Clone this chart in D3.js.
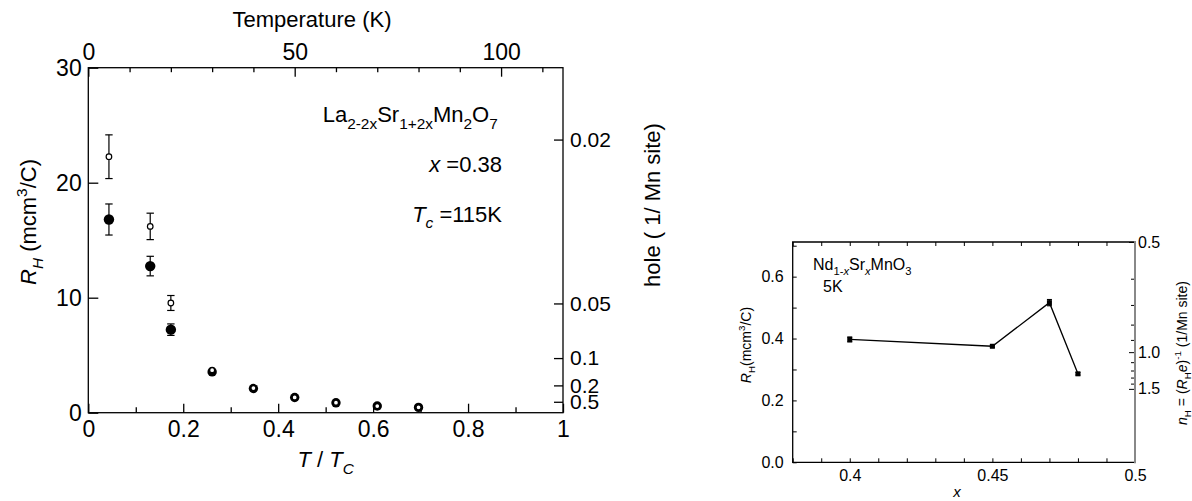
<!DOCTYPE html>
<html>
<head>
<meta charset="utf-8">
<script src="https://cdn.jsdelivr.net/npm/d3@7"></script>
<style>
  body { margin: 0; background: #fff; }
  svg { display: block; }
  text { font-family: "Liberation Sans", Arial, sans-serif; fill: #000; }
</style>
</head>
<body>
<div id="canvas"></div>
<script>
var w = 1192;
var h = 501;

// ---- left panel data (La2-2xSr1+2xMn2O7, x = 0.38) ----
var Tc = 115;
var tempK = [5, 15, 20, 30, 40, 50, 60, 70, 80];
var rhFilled = [16.8, 12.75, 7.22, 3.55, 2.1, 1.32, 0.86, 0.58, 0.46];
var errFilled = [1.35, 0.85, 0.5, 0, 0, 0, 0, 0, 0];
var rhOpen = [22.26, 16.2, 9.54, 3.7, 2.14, 1.33, 0.87, 0.58, 0.47];
var errOpen = [1.9, 1.15, 0.65, 0, 0, 0, 0, 0, 0];
var bottomTicks = [0, 0.2, 0.4, 0.6, 0.8, 1];
var bottomMinor = [0.1, 0.3, 0.5, 0.7, 0.9];
var topTicks = [0, 50, 100];
var topMinor = [10, 20, 30, 40, 60, 70, 80, 90, 110];
var leftTicks = [0, 10, 20, 30];
var holeTicks = [0.02, 0.05, 0.1, 0.2, 0.5];
var holeConst = 0.475; // R_H = holeConst / hole

// ---- right panel data (Nd1-xSrxMnO3, 5K) ----
var xDoping = [0.40, 0.45, 0.47, 0.48];
var rhNd = [0.397, 0.375, 0.516, 0.286];
var errNd = [0.008, 0.003, 0.01, 0.004];
var xrTicks = [0.38, 0.39, 0.40, 0.41, 0.42, 0.43, 0.44, 0.45, 0.46, 0.47, 0.48, 0.49, 0.50];
var xrLabels = [0.4, 0.45, 0.5];
var yrTicks = [0, 0.1, 0.2, 0.3, 0.4, 0.5, 0.6, 0.7];
var nTicks = [0.5, 1.0, 1.5];
var nMinor = [0.6, 0.7, 0.8, 0.9, 1.1, 1.2, 1.3, 1.4];
var nConst = 0.356; // R_H = nConst / n_H

var canvas = d3.select("#canvas")
  .append("svg")
  .attr("width", w)
  .attr("height", h);

// small helper for sub / superscripts and italics
function richText(g, x, y, parts, size, anchor) {
  var t = g.append("text")
    .attr("x", x)
    .attr("y", y)
    .attr("font-size", size)
    .attr("text-anchor", anchor || "start");
  var cur = 0;
  parts.forEach(function(p) {
    var target = 0, fs = size;
    if (p.sub) { target = size * 0.3; fs = size * 0.7; }
    if (p.sup) { target = -size * 0.42; fs = size * 0.7; }
    var s = t.append("tspan").text(p.t).attr("font-size", fs);
    if (target !== cur) s.attr("dy", target - cur);
    if (p.it) s.style("font-style", "italic");
    cur = target;
  });
  return t;
}

function styleAxis(g, width) {
  g.select(".domain").remove();
  g.selectAll(".tick line").attr("stroke", "#000").attr("stroke-width", width);
}

// ================= LEFT PANEL =================
var xL = d3.scaleLinear().domain([0, 1]).range([88.3, 563]);
var xT = d3.scaleLinear().domain([0, Tc]).range([88.3, 563]);
var yL = d3.scaleLinear().domain([0, 30]).range([412.7, 67.7]);

var left = canvas.append("g");

var gb = left.append("g").attr("transform", "translate(0," + yL(0) + ")")
  .call(d3.axisBottom(xL).tickValues(bottomTicks).tickSize(-9).tickPadding(8)
    .tickFormat(function(d) { return d3.format("~g")(d); }));
gb.selectAll("text").attr("font-size", 23).attr("font-family", null);
styleAxis(gb, 1.3);
var gbm = left.append("g").attr("transform", "translate(0," + yL(0) + ")")
  .call(d3.axisBottom(xL).tickValues(bottomMinor).tickSize(-5.5).tickFormat(""));
styleAxis(gbm, 1.3);

var gt = left.append("g").attr("transform", "translate(0," + yL(30) + ")")
  .call(d3.axisTop(xT).tickValues(topTicks).tickSize(-9).tickPadding(7.7));
gt.selectAll("text").attr("font-size", 23).attr("font-family", null);
styleAxis(gt, 1.3);
var gtm = left.append("g").attr("transform", "translate(0," + yL(30) + ")")
  .call(d3.axisTop(xT).tickValues(topMinor).tickSize(-4.5).tickFormat(""));
styleAxis(gtm, 1.3);

var gl = left.append("g").attr("transform", "translate(" + xL(0) + ",0)")
  .call(d3.axisLeft(yL).tickValues(leftTicks).tickSize(-10).tickPadding(6.6));
gl.selectAll("text").attr("font-size", 23).attr("font-family", null);
styleAxis(gl, 1.3);

var gr = left.append("g").attr("transform", "translate(" + xL(1) + ",0)")
  .call(d3.axisRight(yL)
    .tickValues(holeTicks.map(function(v) { return holeConst / v; }))
    .tickFormat(function(d, i) { return holeTicks[i]; })
    .tickSize(-9).tickPadding(7));
gr.selectAll("text").attr("font-size", 21).attr("font-family", null);
styleAxis(gr, 1.3);

// frame
left.append("rect")
  .attr("x", xL(0)).attr("y", yL(30))
  .attr("width", xL(1) - xL(0)).attr("height", yL(0) - yL(30))
  .attr("fill", "none").attr("stroke", "#000").attr("stroke-width", 1.3);

// axis titles
left.append("text").attr("x", 312).attr("y", 26.7).attr("text-anchor", "middle")
  .attr("font-size", 22).text("Temperature (K)");
richText(left, 325.7, 467, [{t: "T", it: true}, {t: " / "}, {t: "T", it: true}, {t: "C", it: true, sub: true}], 22, "middle");
richText(left.append("g").attr("transform", "translate(36,222) rotate(-90)"), 0, 0,
  [{t: "R", it: true}, {t: "H", it: true, sub: true}, {t: " (mcm"}, {t: "3", sup: true}, {t: "/C)"}], 22, "middle");
left.append("text").attr("transform", "translate(660,205) rotate(-90)")
  .attr("text-anchor", "middle").attr("font-size", 22).text("hole ( 1/ Mn site)");

// annotations
richText(left, 322.7, 122.3, [{t: "La"}, {t: "2-2x", sub: true}, {t: "Sr"}, {t: "1+2x", sub: true},
  {t: "Mn"}, {t: "2", sub: true}, {t: "O"}, {t: "7", sub: true}], 22);
richText(left, 502, 171.7, [{t: "x", it: true}, {t: " =0.38"}], 22, "end");
richText(left, 502, 221.7, [{t: "T", it: true}, {t: "c", it: true, sub: true}, {t: " =115K"}], 22, "end");

// points
var leftData = tempK.map(function(t, i) {
  return { x: t / Tc, f: rhFilled[i], fe: errFilled[i], o: rhOpen[i], oe: errOpen[i] };
});

function errorBars(g, data, xs, ys, key, ekey, cap) {
  var eb = g.selectAll(null).data(data.filter(function(d) { return d[ekey] > 0; })).join("g");
  eb.append("line")
    .attr("x1", function(d) { return xs(d.x); }).attr("x2", function(d) { return xs(d.x); })
    .attr("y1", function(d) { return ys(d[key] - d[ekey]); })
    .attr("y2", function(d) { return ys(d[key] + d[ekey]); })
    .attr("stroke", "#000").attr("stroke-width", 1.2);
  [-1, 1].forEach(function(s) {
    eb.append("line")
      .attr("x1", function(d) { return xs(d.x) - cap; }).attr("x2", function(d) { return xs(d.x) + cap; })
      .attr("y1", function(d) { return ys(d[key] + s * d[ekey]); })
      .attr("y2", function(d) { return ys(d[key] + s * d[ekey]); })
      .attr("stroke", "#000").attr("stroke-width", 1.2);
  });
}

errorBars(left, leftData, xL, yL, "f", "fe", 3.7);
errorBars(left, leftData, xL, yL, "o", "oe", 3.7);

left.selectAll(".filled").data(leftData).join("circle")
  .attr("class", "filled")
  .attr("cx", function(d) { return xL(d.x); })
  .attr("cy", function(d) { return yL(d.f); })
  .attr("r", function(d, i) { return i < 3 ? 5.2 : 4.7; })
  .attr("fill", "#000");

left.selectAll(".open").data(leftData).join("circle")
  .attr("class", "open")
  .attr("cx", function(d) { return xL(d.x); })
  .attr("cy", function(d) { return yL(d.o); })
  .attr("r", function(d, i) { return i < 3 ? 2.8 : 2.6; })
  .attr("fill", "#fff").attr("stroke", "#000")
  .attr("stroke-width", function(d, i) { return i < 3 ? 1.2 : 1.5; });

// ================= RIGHT PANEL =================
var xR = d3.scaleLinear().domain([0.38, 0.5]).range([792.7, 1135]);
var yR = d3.scaleLinear().domain([0, 0.712]).range([462.3, 242]);

var right = canvas.append("g");

var rb = right.append("g").attr("transform", "translate(0," + yR(0) + ")")
  .call(d3.axisBottom(xR).tickValues(xrTicks).tickSize(-4).tickPadding(7.5)
    .tickFormat(function(d) {
      return xrLabels.some(function(v) { return Math.abs(v - d) < 1e-6; }) ? d3.format("~g")(d) : "";
    }));
rb.selectAll("text").attr("font-size", 16).attr("font-family", null);
styleAxis(rb, 1);

var rt = right.append("g").attr("transform", "translate(0," + yR(0.712) + ")")
  .call(d3.axisTop(xR).tickValues(xrTicks).tickSize(-4).tickFormat(""));
styleAxis(rt, 1);

var rl = right.append("g").attr("transform", "translate(" + xR(0.38) + ",0)")
  .call(d3.axisLeft(yR).tickValues(yrTicks).tickSize(-4).tickPadding(9)
    .tickFormat(function(d, i) { return i % 2 === 0 ? d3.format(".1f")(d) : ""; }));
rl.selectAll("text").attr("font-size", 16).attr("font-family", null);
styleAxis(rl, 1);

var rr = right.append("g").attr("transform", "translate(" + xR(0.5) + ",0)")
  .call(d3.axisRight(yR)
    .tickValues(nTicks.map(function(v) { return nConst / v; }))
    .tickFormat(function(d, i) { return d3.format(".1f")(nTicks[i]); })
    .tickSize(-6).tickPadding(3));
rr.selectAll("text").attr("font-size", 16).attr("font-family", null);
styleAxis(rr, 1);
var rrm = right.append("g").attr("transform", "translate(" + xR(0.5) + ",0)")
  .call(d3.axisRight(yR)
    .tickValues(nMinor.map(function(v) { return nConst / v; }))
    .tickSize(-4).tickFormat(""));
styleAxis(rrm, 1);

// frame: black left/top/bottom, grey right
right.append("path")
  .attr("d", "M" + xR(0.5) + "," + yR(0.712) + "H" + xR(0.38) + "V" + yR(0) + "H" + xR(0.5))
  .attr("fill", "none").attr("stroke", "#000").attr("stroke-width", 1.3);
right.append("line")
  .attr("x1", xR(0.5)).attr("x2", xR(0.5))
  .attr("y1", yR(0.712) - 1).attr("y2", yR(0) + 1)
  .attr("stroke", "#888").attr("stroke-width", 2);

var rightData = xDoping.map(function(x, i) { return { x: x, y: rhNd[i], e: errNd[i] }; });

right.append("path")
  .datum(rightData)
  .attr("d", d3.line().x(function(d) { return xR(d.x); }).y(function(d) { return yR(d.y); }))
  .attr("fill", "none").attr("stroke", "#000").attr("stroke-width", 1.3);

errorBars(right, rightData, xR, yR, "y", "e", 2.5);

right.selectAll(".sq").data(rightData).join("rect")
  .attr("class", "sq")
  .attr("x", function(d) { return xR(d.x) - 2.5; })
  .attr("y", function(d) { return yR(d.y) - 2.5; })
  .attr("width", 5).attr("height", 5)
  .attr("fill", "#000");

// labels
richText(right, 813, 270, [{t: "Nd"}, {t: "1-", sub: true}, {t: "x", sub: true, it: true}, {t: "Sr"},
  {t: "x", sub: true, it: true}, {t: "MnO"}, {t: "3", sub: true}], 16);
right.append("text").attr("x", 823).attr("y", 292).attr("font-size", 16).text("5K");
right.append("text").attr("x", 957).attr("y", 497).attr("text-anchor", "middle")
  .attr("font-size", 15).style("font-style", "italic").text("x");
richText(right.append("g").attr("transform", "translate(751,345) rotate(-90)"), 0, 0,
  [{t: "R", it: true}, {t: "H", sub: true}, {t: "(mcm"}, {t: "3", sup: true}, {t: "/C)"}], 14, "middle");
richText(right.append("g").attr("transform", "translate(1187,353) rotate(-90)"), 0, 0,
  [{t: "n", it: true}, {t: "H", sub: true}, {t: " = ("}, {t: "R", it: true}, {t: "H", sub: true},
   {t: "e", it: true}, {t: ")"}, {t: "-1", sup: true}, {t: " (1/Mn site)"}], 14, "middle");
</script>
</body>
</html>
